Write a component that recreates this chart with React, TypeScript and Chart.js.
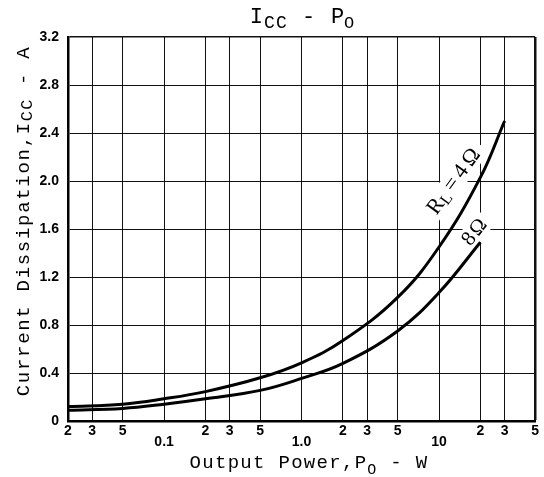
import React, { useEffect, useRef } from "react";
import { Chart, registerables } from "chart.js";

Chart.register(...registerables);

// ---- data ----
const X_TICK_VALUES = [0.02, 0.03, 0.05, 0.1, 0.2, 0.3, 0.5, 1, 2, 3, 5, 10, 20, 30, 50];
const X_TICK_LABELS = ["2", "3", "5", "0.1", "2", "3", "5", "1.0", "2", "3", "5", "10", "2", "3", "5"];
const X_MAJOR_LABELS = ["0.1", "1.0", "10"];
const Y_TICK_VALUES = [0, 0.4, 0.8, 1.2, 1.6, 2.0, 2.4, 2.8, 3.2];
const Y_TICK_LABELS = ["0", "0.4", "0.8", "1.2", "1.6", "2.0", "2.4", "2.8", "3.2"];

const PO_4OHM = [0.02, 0.05, 0.1, 0.2, 0.5, 1, 2, 5, 10, 20, 30];
const ICC_4OHM = [0.12, 0.14, 0.185, 0.245, 0.36, 0.485, 0.67, 1.03, 1.45, 2.03, 2.5];
const PO_8OHM = [0.02, 0.05, 0.1, 0.2, 0.5, 1, 2, 5, 10, 20];
const ICC_8OHM = [0.09, 0.105, 0.14, 0.185, 0.255, 0.355, 0.48, 0.75, 1.07, 1.49];

const MONO = '"Liberation Mono", "DejaVu Sans Mono", monospace';
const SERIF = '"Liberation Serif", "DejaVu Serif", serif';
const SANS = '"Liberation Sans", Arial, sans-serif';

type Run = { text: string; font: string; dy?: number; spacing?: number };

function runsWidth(ctx: CanvasRenderingContext2D, runs: Run[]) {
  let w = 0;
  for (const r of runs) {
    ctx.font = r.font;
    for (const ch of r.text) w += ctx.measureText(ch).width + (r.spacing || 0);
  }
  return w;
}

function drawRuns(ctx: CanvasRenderingContext2D, runs: Run[], cx: number, y: number) {
  const total = runsWidth(ctx, runs);
  let x = cx - total / 2;
  ctx.textAlign = "left";
  ctx.textBaseline = "alphabetic";
  for (const r of runs) {
    ctx.font = r.font;
    for (const ch of r.text) {
      ctx.fillText(ch, x, y + (r.dy || 0));
      x += ctx.measureText(ch).width + (r.spacing || 0);
    }
  }
  return total;
}

const textPlugin = {
  id: "textPlugin",
  beforeDatasetsDraw(chart: any) {
    const ctx: CanvasRenderingContext2D = chart.ctx;
    const xs = chart.scales.x;
    const ys = chart.scales.y;
    const labels = [
      {
        x: 14.2,
        y: 1.98,
        angle: -54,
        runs: [
          { text: "R", font: `22px ${SERIF}`, spacing: 0 },
          { text: "L", font: `16px ${SERIF}`, dy: 3, spacing: 4 },
          { text: "=4Ω", font: `22px ${SERIF}`, spacing: 4 },
        ] as Run[],
      },
      {
        x: 19.8,
        y: 1.55,
        angle: -52,
        runs: [{ text: "8Ω", font: `21px ${SERIF}`, spacing: 2 }] as Run[],
      },
    ];
    for (const l of labels) {
      const px = xs.getPixelForValue(l.x);
      const py = ys.getPixelForValue(l.y);
      ctx.save();
      ctx.translate(px, py);
      ctx.rotate((l.angle * Math.PI) / 180);
      const w = runsWidth(ctx, l.runs);
      ctx.fillStyle = "#fff";
      ctx.fillRect(-w / 2 - 3, -17, w + 6, 22);
      ctx.fillStyle = "#000";
      drawRuns(ctx, l.runs, 0, 0);
      ctx.restore();
    }
  },
  afterDraw(chart: any) {
    const ctx: CanvasRenderingContext2D = chart.ctx;
    ctx.save();
    ctx.fillStyle = "#000";
    // title
    drawRuns(
      ctx,
      [
        { text: "I", font: `22px ${MONO}`, spacing: 1.2 },
        { text: "CC", font: `18px ${MONO}`, dy: 5, spacing: 1 },
        { text: " - ", font: `22px ${MONO}`, spacing: 1.2 },
        { text: "P", font: `22px ${MONO}`, spacing: 0 },
        { text: "O", font: `17px ${MONO}`, dy: 5, spacing: 0 },
      ],
      302,
      23
    );
    // x title
    drawRuns(
      ctx,
      [
        { text: "Output Power,P", font: `19px ${MONO}`, spacing: 1.3 },
        { text: "O", font: `15px ${MONO}`, dy: 6, spacing: 1.3 },
        { text: " - W", font: `19px ${MONO}`, spacing: 1.3 },
      ],
      309,
      468
    );
    // y title
    ctx.translate(29, 221);
    ctx.rotate(-Math.PI / 2);
    drawRuns(
      ctx,
      [
        { text: "Current Dissipation,I", font: `19px ${MONO}`, spacing: 1.7 },
        { text: "CC", font: `17px ${MONO}`, dy: 3, spacing: 1.3 },
        { text: " - A", font: `19px ${MONO}`, spacing: 1.7 },
      ],
      0,
      0
    );
    ctx.restore();
  },
};

export default function App() {
  const ref = useRef<HTMLCanvasElement | null>(null);
  useEffect(() => {
    if (!ref.current) return;
    const chart = new Chart(ref.current, {
      type: "line",
      data: {
        datasets: [
          {
            label: "RL=4Ω",
            data: PO_4OHM.map((x, i) => ({ x, y: ICC_4OHM[i] })),
            borderColor: "#000",
            borderWidth: 3,
            pointRadius: 0,
            tension: 0.4,
            fill: false,
          },
          {
            label: "8Ω",
            data: PO_8OHM.map((x, i) => ({ x, y: ICC_8OHM[i] })),
            borderColor: "#000",
            borderWidth: 3,
            pointRadius: 0,
            tension: 0.4,
            fill: false,
          },
        ],
      },
      options: {
        responsive: false,
        animation: false,
        devicePixelRatio: 1,
        layout: { padding: { left: 0, top: 37, right: 5, bottom: 0 } },
        plugins: { legend: { display: false }, title: { display: false }, tooltip: { enabled: false } },
        scales: {
          x: {
            type: "logarithmic",
            min: 0.02,
            max: 50,
            afterBuildTicks: (s: any) => {
              s.ticks = X_TICK_VALUES.map((v) => ({ value: v }));
            },
            afterFit: (s: any) => {
              s.height = 56;
            },
            grid: {
              color: "#111",
              lineWidth: (c: any) => (c.index === X_TICK_VALUES.length - 1 ? 2.5 : 1),
              drawTicks: false,
            },
            border: { display: true, color: "#000", width: 2.5 },
            ticks: {
              autoSkip: false,
              maxRotation: 0,
              padding: 5,
              color: "#000",
              font: { family: SANS, size: 14, weight: "bold", lineHeight: 0.75 },
              callback: (_v: any, i: number) => {
                const t = X_TICK_LABELS[i];
                return X_MAJOR_LABELS.includes(t) ? ["", t] : t;
              },
            },
          },
          y: {
            type: "linear",
            min: 0,
            max: 3.2,
            afterBuildTicks: (s: any) => {
              s.ticks = Y_TICK_VALUES.map((v) => ({ value: v }));
            },
            afterFit: (s: any) => {
              s.width = 68;
            },
            grid: {
              color: "#111",
              lineWidth: (c: any) => (c.index === Y_TICK_VALUES.length - 1 ? 1.5 : 1),
              drawTicks: false,
            },
            border: { display: true, color: "#000", width: 2.5 },
            ticks: {
              padding: 9,
              color: "#000",
              font: { family: SANS, size: 14, weight: "bold" },
              callback: (_v: any, i: number) => Y_TICK_LABELS[i],
            },
          },
        },
      },
      plugins: [textPlugin],
    } as any);
    return () => chart.destroy();
  }, []);
  return (
    <div style={{ position: "fixed", left: 0, top: 0, width: 544, height: 477, background: "#fff" }}>
      <canvas ref={ref} width={544} height={477} style={{ display: "block" }} />
    </div>
  );
}
